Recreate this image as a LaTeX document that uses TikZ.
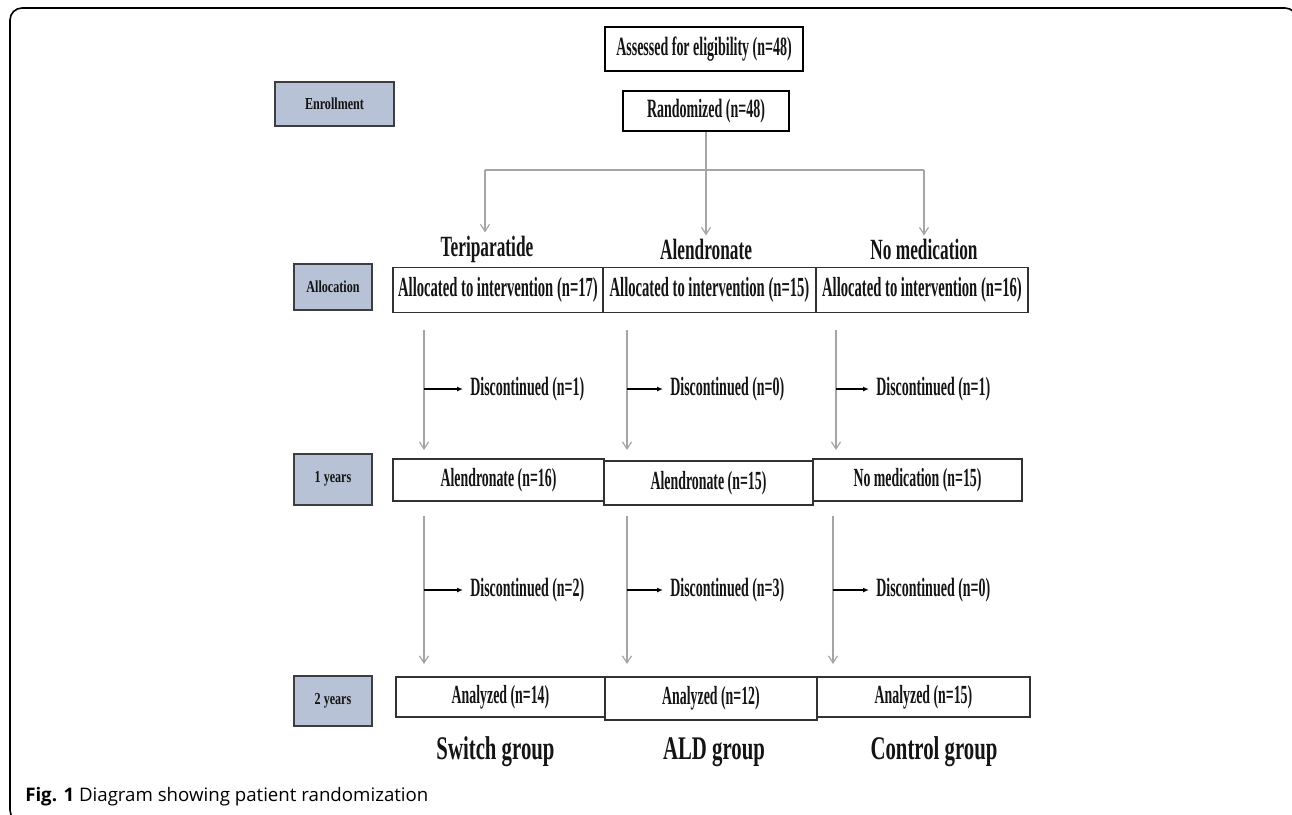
\documentclass[tikz,border=0pt]{standalone}
\usepackage{fontspec}
\setmainfont{Liberation Serif}
\newfontfamily\tnr[FakeStretch=0.53]{Liberation Serif}
\newfontfamily\tnh[FakeStretch=0.59]{Liberation Serif}
\newfontfamily\tng[FakeStretch=0.63]{Liberation Serif}
\newfontfamily\tnl[FakeStretch=0.72]{Liberation Serif}
\newfontfamily\capfont{Open Sans}
\usetikzlibrary{arrows.meta}
\newdimen\px \px=0.75pt
\definecolor{lblfill}{RGB}{184,194,214}
\definecolor{lblborder}{RGB}{60,62,68}
\definecolor{boxborder}{RGB}{50,50,50}
\definecolor{conngray}{RGB}{165,165,165}
\definecolor{ink}{RGB}{20,20,20}
\tikzset{
  lbl/.style={draw=lblborder, line width=1.5pt, fill=lblfill, inner sep=0pt, text=ink,
    font=\tnl\bfseries\fontsize{12.6}{14}\selectfont},
  topbox/.style={draw=black, line width=1.2pt, fill=white, inner sep=0pt, text=ink,
    font=\tnr\bfseries\fontsize{19.8}{21}\selectfont},
  rowbox/.style={draw=boxborder, line width=1.35pt, fill=white, inner sep=0pt, text=ink,
    font=\tnr\bfseries\fontsize{20.7}{22}\selectfont},
  rowboxs/.style={rowbox, font=\tnr\bfseries\fontsize{19.6}{21}\selectfont},
  head/.style={inner sep=0pt, text=ink, font=\tnh\bfseries\fontsize{22}{24}\selectfont},
  grp/.style={inner sep=0pt, text=ink, font=\tng\bfseries\fontsize{24.75}{27}\selectfont},
  disctext/.style={inner sep=0pt, anchor=west, text=ink, font=\tnr\bfseries\fontsize{19.8}{21}\selectfont},
  gline/.style={draw=conngray, line width=1.1pt},
  garrow/.style={draw=conngray, line width=1.1pt, -{Straight Barb[length=5.25pt,width=6.75pt,line width=0.9pt]}},
  darrow/.style={draw=black, line width=0.9pt, -{Latex[length=4.5pt,width=3.75pt]}, shorten >=5.25pt},
}
\begin{document}
\begin{tikzpicture}[x=0.75pt,y=-0.75pt]
\useasboundingbox (0,0) rectangle (1292,814);
\begin{scope}
  \clip (0,0) rectangle (1292,814);
  \draw[line width=1.2pt, rounded corners=9pt] (10,8) rectangle (1297,822);
\end{scope}

% top boxes
\node[topbox, minimum width=198\px, minimum height=44\px] (assess) at (704,49) {Assessed for eligibility (n=48)};
\node[topbox, minimum width=166\px, minimum height=40\px] (rand) at (706,111) {Randomized (n=48)};

% stage labels
\node[lbl, minimum width=119\px, minimum height=44\px] (enroll) at (334.5,104) {Enrollment};
\node[lbl, minimum width=78\px, minimum height=46\px] (alloc) at (333,287) {Allocation};
\node[lbl, minimum width=78\px, minimum height=51\px] (y1) at (333,479) {1 years};
\node[lbl, minimum width=78\px, minimum height=50\px] (y2) at (333,701) {2 years};

% headers
\node[head] (hT) at (487,249) {Teriparatide};
\node[head] (hA) at (706,249) {Alendronate};
\node[head] (hN) at (924,249) {No medication};

% branch
\coordinate (bL) at (485,170);
\coordinate (bR) at (924,170);
\draw[gline] (rand.south) -- (rand.south |- bL);
\draw[gline] (bL) -- (bR);
\draw[garrow, shorten >=2.25pt] (bL) -- (bL |- hT.north);
\draw[garrow, shorten >=2.25pt] (rand.south) -- (rand.south |- hA.north);
\draw[garrow, shorten >=2.25pt] (bR) -- (bR |- hN.north);

% row 1
\node[rowbox, minimum width=210\px, minimum height=45\px] (r1a) at (498,290) {Allocated to intervention (n=17)};
\node[rowbox, minimum width=213\px, minimum height=45\px] (r1b) at (709.5,290) {Allocated to intervention (n=15)};
\node[rowbox, minimum width=212\px, minimum height=45\px] (r1c) at (922,290) {Allocated to intervention (n=16)};

% discontinued 1
\coordinate (v1a) at (424,330); \coordinate (v1b) at (424,450); \coordinate (h1a) at (424,389);
\coordinate (v2a) at (627,330); \coordinate (v2b) at (627,450); \coordinate (h2a) at (627,389);
\coordinate (v3a) at (836,330); \coordinate (v3b) at (836,450); \coordinate (h3a) at (836,389);
\draw[garrow] (v1a) -- (v1b);
\draw[garrow] (v2a) -- (v2b);
\draw[garrow] (v3a) -- (v3b);
\node[disctext] (d1a) at (470,389) {Discontinued (n=1)};
\node[disctext] (d1b) at (670,389) {Discontinued (n=0)};
\node[disctext] (d1c) at (876,389) {Discontinued (n=1)};
\draw[darrow] (h1a) -- (d1a.west);
\draw[darrow] (h2a) -- (d1b.west);
\draw[darrow] (h3a) -- (d1c.west);

% row 2
\node[rowboxs, minimum width=211\px, minimum height=42\px] (r2a) at (498.5,480) {Alendronate (n=16)};
\node[rowboxs, minimum width=209\px, minimum height=44\px] (r2b) at (708.5,483) {Alendronate (n=15)};
\node[rowboxs, minimum width=209\px, minimum height=42\px] (r2c) at (917.5,480) {No medication (n=15)};

% discontinued 2
\coordinate (w1a) at (424,516); \coordinate (w1b) at (424,664); \coordinate (k1a) at (424,590);
\coordinate (w2a) at (627,516); \coordinate (w2b) at (627,664); \coordinate (k2a) at (627,590);
\coordinate (w3a) at (833,516); \coordinate (w3b) at (833,664); \coordinate (k3a) at (833,590);
\draw[garrow] (w1a) -- (w1b);
\draw[garrow] (w2a) -- (w2b);
\draw[garrow] (w3a) -- (w3b);
\node[disctext] (d2a) at (470,590) {Discontinued (n=2)};
\node[disctext] (d2b) at (670,590) {Discontinued (n=3)};
\node[disctext] (d2c) at (876,590) {Discontinued (n=0)};
\draw[darrow] (k1a) -- (d2a.west);
\draw[darrow] (k2a) -- (d2b.west);
\draw[darrow] (k3a) -- (d2c.west);

% row 3
\node[rowboxs, minimum width=209\px, minimum height=40\px] (r3a) at (500.5,697) {Analyzed (n=14)};
\node[rowboxs, minimum width=212\px, minimum height=43\px] (r3b) at (711,698.5) {Analyzed (n=12)};
\node[rowboxs, minimum width=213\px, minimum height=40\px] (r3c) at (923.5,697) {Analyzed (n=15)};

% groups
\node[grp] (gS) at (495.5,752) {Switch group};
\node[grp] (gA) at (714,752) {ALD group};
\node[grp] (gC) at (934,752) {Control group};

% caption
\node[anchor=west, inner sep=0pt, font=\capfont\fontsize{14}{16}\selectfont] (cap) at (25,797) {\textbf{Fig. 1} Diagram showing patient randomization};
\end{tikzpicture}
\end{document}
